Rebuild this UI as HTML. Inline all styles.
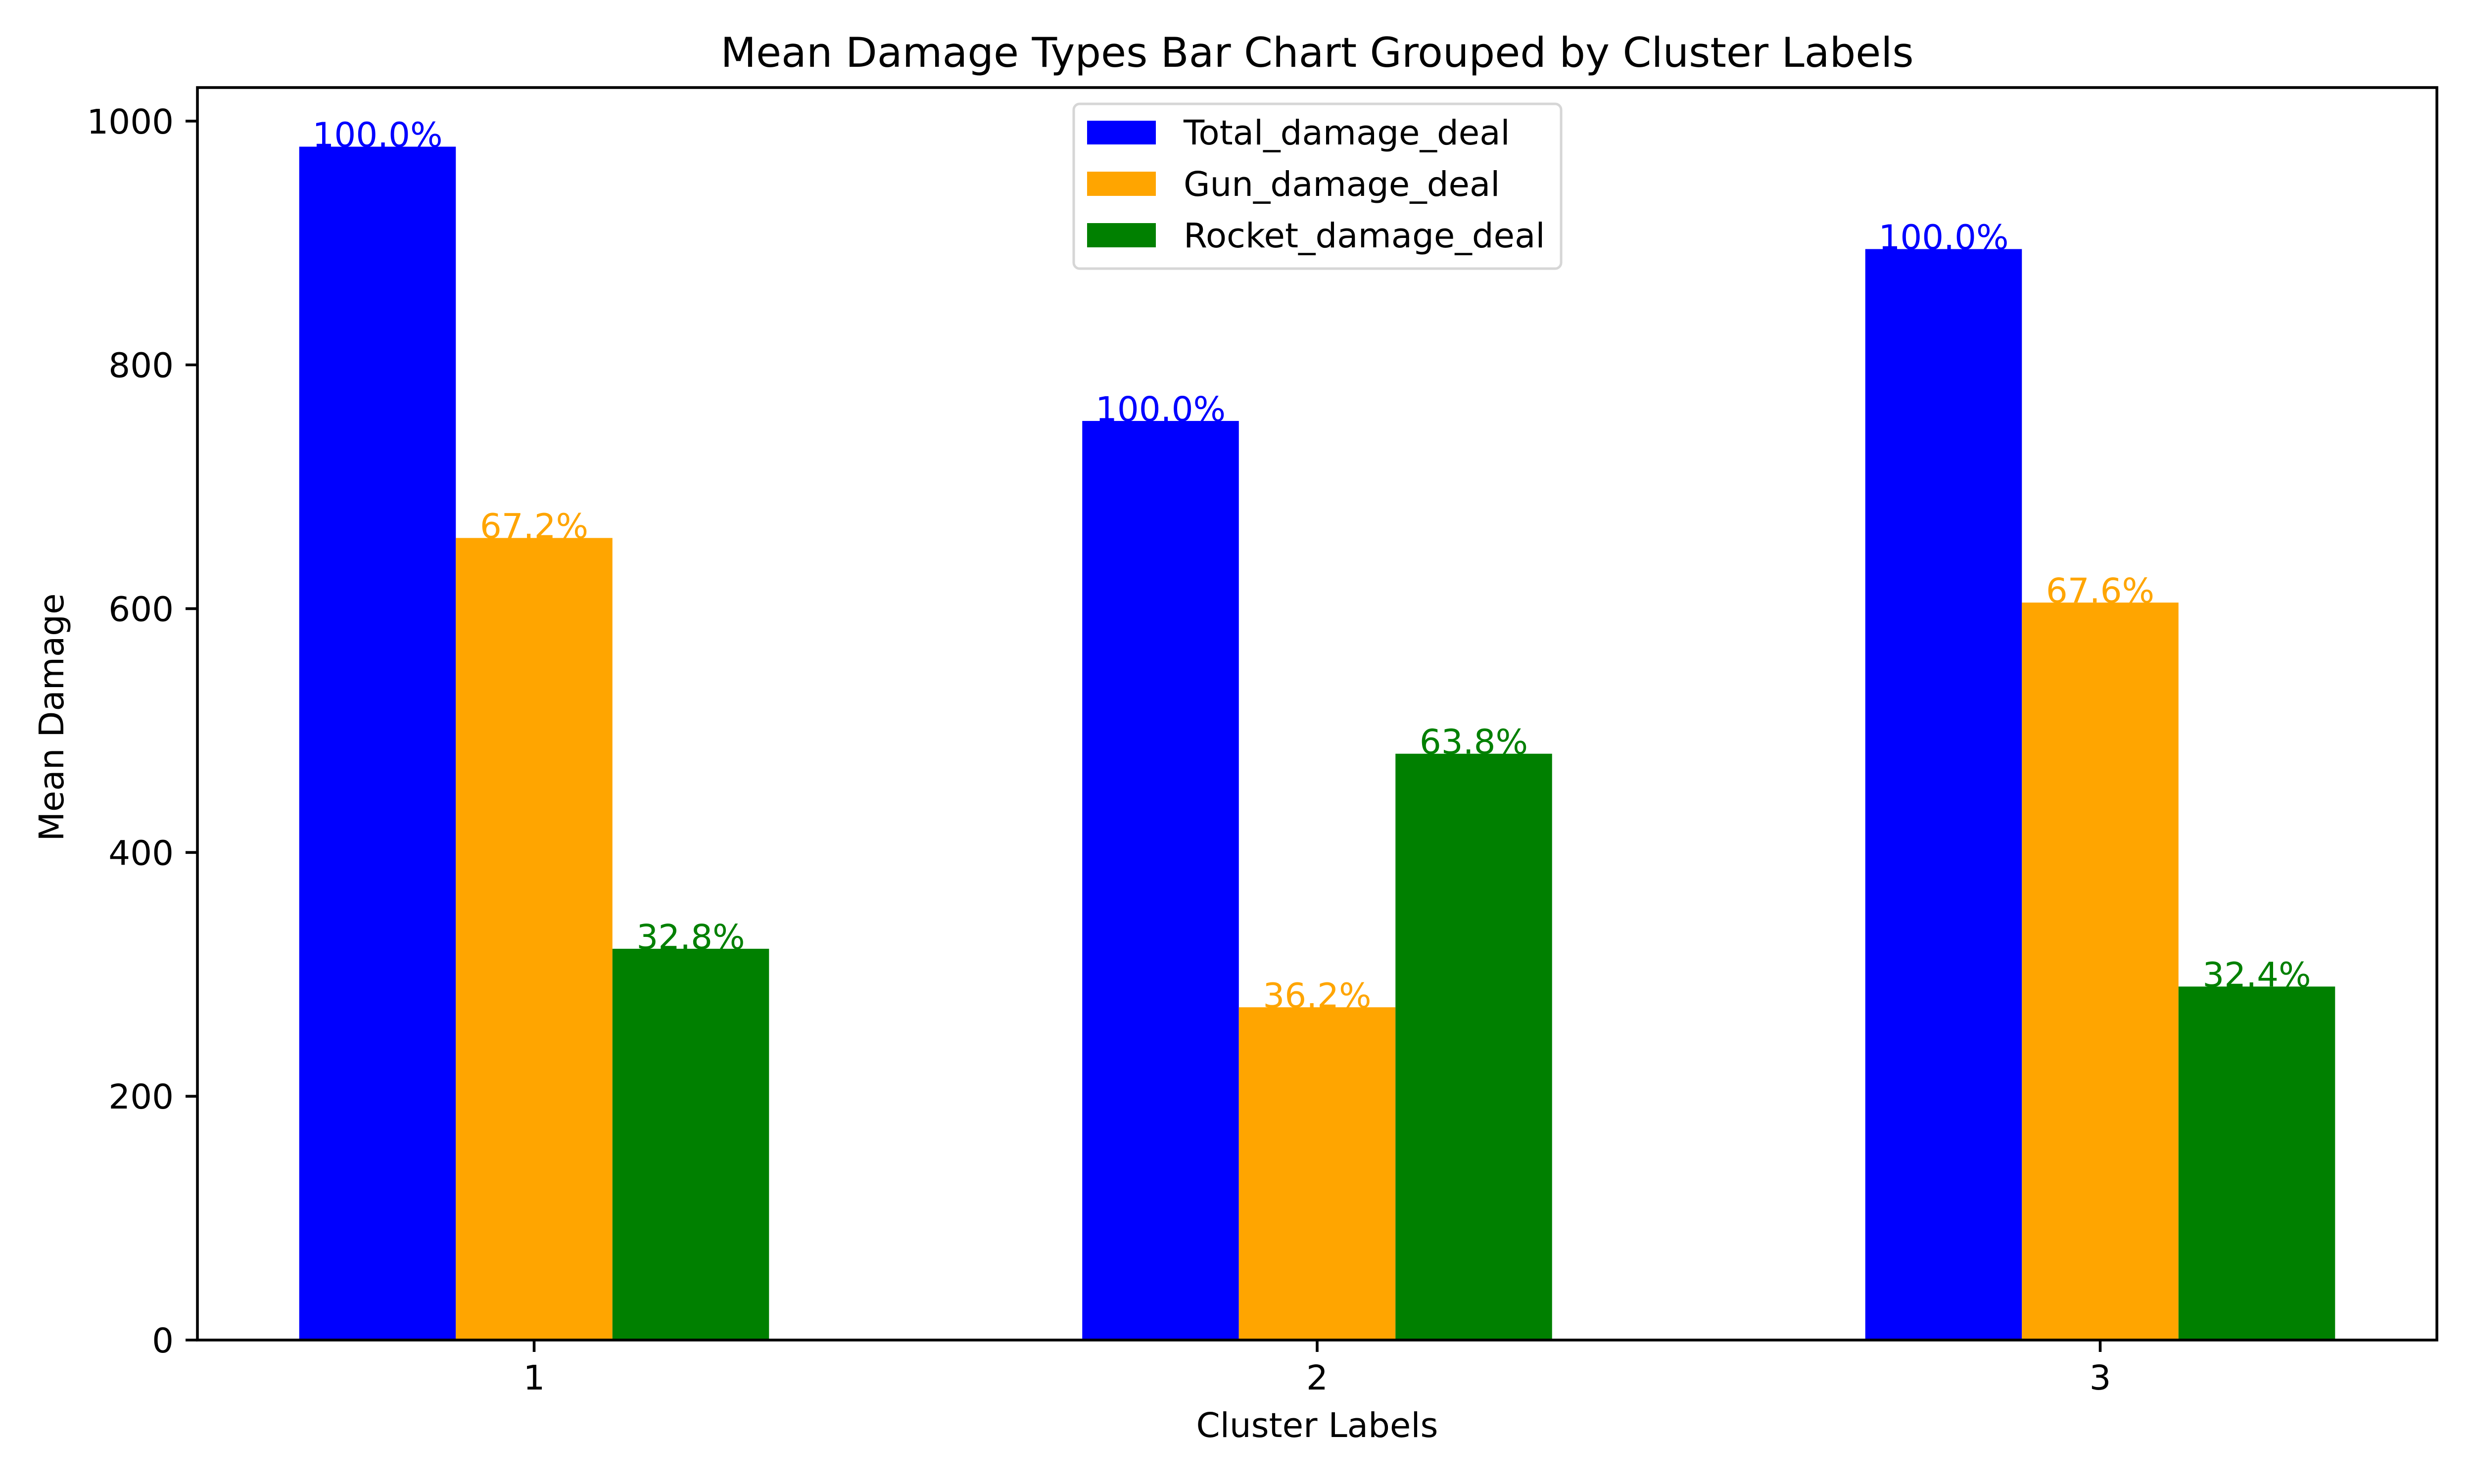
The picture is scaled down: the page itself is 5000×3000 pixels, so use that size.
<!DOCTYPE html>
<html><head><meta charset="utf-8"><style>
html,body{margin:0;padding:0;background:#fff;}
svg{display:block;font-family:"DejaVu Sans","Liberation Sans",sans-serif;}
</style></head><body>
<svg id="chart" width="5000" height="3000" viewBox="0 0 5000 3000" xmlns="http://www.w3.org/2000/svg">
<rect x="0" y="0" width="5000" height="3000" fill="#fff"/>
<text x="2662" y="135" font-size="83" text-anchor="middle" fill="#000">Mean Damage Types Bar Chart Grouped by Cluster Labels</text>
<text x="2662" y="2905" font-size="69" text-anchor="middle" fill="#000">Cluster Labels</text>
<text transform="translate(128,1450) rotate(-90)" font-size="69" text-anchor="middle" fill="#000">Mean Damage</text>
<g id="bars"></g>
<g id="labels"></g>
<g id="axes"></g>
<g>
<rect x="2170" y="210" width="985" height="333" rx="12" fill="#fff" fill-opacity="0.8" stroke="#d6d6d6" stroke-width="5"/>
<rect x="2197" y="244" width="139" height="48" fill="#0000ff"/>
<text x="2392" y="292" font-size="69" fill="#000">Total_damage_deal</text>
<rect x="2197" y="347" width="139" height="49" fill="#ffa500"/>
<text x="2392" y="396" font-size="69" fill="#000">Gun_damage_deal</text>
<rect x="2197" y="451" width="139" height="49" fill="#008000"/>
<text x="2392" y="500" font-size="69" fill="#000">Rocket_damage_deal</text>
</g>
</svg>
<script>
const categories = [1, 2, 3];
const totalDamage = [979, 754, 895];
const gunDamage = [658, 273, 605];
const rocketDamage = [321, 481, 290];
const yTicks = [0, 200, 400, 600, 800, 1000];
const xTickLabels = ["1", "2", "3"];

const NS = "http://www.w3.org/2000/svg";
const L = 399, R = 4925, T = 177, B = 2709;
const xMin = 0.57, xMax = 3.43, yMin = 0, yMax = 1027.5;
function xs(v){ return L + (v - xMin) / (xMax - xMin) * (R - L); }
function ys(v){ return B - (v - yMin) / (yMax - yMin) * (B - T); }
function mk(tag, attrs, parent){
  const e = document.createElementNS(NS, tag);
  for (const k in attrs) e.setAttribute(k, attrs[k]);
  parent.appendChild(e);
  return e;
}
const barsG = document.getElementById('bars');
const labelsG = document.getElementById('labels');
const axesG = document.getElementById('axes');
const w = 0.2;
const series = [
  {name:'total', vals: totalDamage, color:'#0000ff', off:-w},
  {name:'gun', vals: gunDamage, color:'#ffa500', off:0},
  {name:'rocket', vals: rocketDamage, color:'#008000', off:w}
];
series.forEach(s => {
  categories.forEach((c, i) => {
    const v = s.vals[i];
    const x0 = xs(c + s.off - w/2), x1 = xs(c + s.off + w/2);
    const r = mk('rect', {x:x0, y:ys(v), width:x1-x0, height:ys(0)-ys(v), fill:s.color}, barsG);
    
    
    const pct = (v / totalDamage[i] * 100).toFixed(1) + '%';
    const t = mk('text', {x:xs(c + s.off), y:ys(v), 'font-size':69, 'text-anchor':'middle', fill:s.color}, labelsG);
    t.textContent = pct;
    
    
  });
});
const frame = mk('rect', {x:L, y:T, width:R-L, height:B-T, fill:'none', stroke:'#000', 'stroke-width':5.6}, axesG);


yTicks.forEach(v => {
  const y = ys(v);
  const tk = mk('line', {x1:L-24, x2:L, y1:y, y2:y, stroke:'#000', 'stroke-width':5.6}, axesG);
  
  
  const tl = mk('text', {x:L-48, y:y+25, 'font-size':69, 'text-anchor':'end', fill:'#000'}, axesG);
  tl.textContent = String(v);
  
  
});
categories.forEach((c, i) => {
  const x = xs(c);
  const tk = mk('line', {x1:x, x2:x, y1:B, y2:B+24, stroke:'#000', 'stroke-width':5.6}, axesG);
  
  
  const tl = mk('text', {x:x, y:B+100, 'font-size':69, 'text-anchor':'middle', fill:'#000'}, axesG);
  tl.textContent = xTickLabels[i];
  
  
});
</script>
</body></html>
